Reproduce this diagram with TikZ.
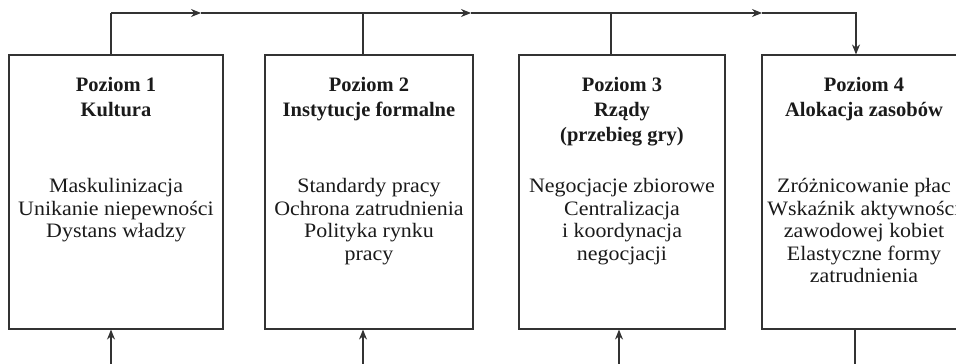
\documentclass[tikz,border=0pt]{standalone}
\usepackage{fontspec}
\setmainfont{Liberation Serif}
\newfontfamily\bodyfont[FakeStretch=1.07]{Liberation Serif}
\usetikzlibrary{arrows.meta}
\definecolor{ln}{HTML}{333333}
\definecolor{tx}{HTML}{1a1a1a}
\tikzset{
  lvlbox/.style={draw=ln, line width=1.1pt, inner sep=0pt},
  ttl/.style={font=\fontsize{20.5}{25}\selectfont\bfseries, text=tx, align=center, inner sep=0pt, anchor=north},
  bdy/.style={font=\bodyfont\fontsize{20.5}{22.6}\selectfont, text=tx, align=center, inner sep=0pt, anchor=north},
  conn/.style={draw=ln, line width=1.1pt},
  arr/.style={conn, -{Stealth[length=10pt,width=8pt]}},
}
\begin{document}
\begin{tikzpicture}[x=1pt,y=-1pt]
\useasboundingbox (0,0) rectangle (956,364);
% boxes
\node[lvlbox, minimum width=214pt, minimum height=274pt] (b1) at (116,192) {};
\node[lvlbox, minimum width=208pt, minimum height=274pt] (b2) at (369,192) {};
\node[lvlbox, minimum width=206pt, minimum height=274pt] (b3) at (622,192) {};
\node[lvlbox, minimum width=204pt, minimum height=274pt] (b4) at (864,192) {};
% titles
\node[ttl] (t1) at (116,77) {Poziom 1\\Kultura};
\node[ttl] (t2) at (369,77) {Poziom 2\\Instytucje formalne};
\node[ttl] (t3) at (622,77) {Poziom 3\\Rządy\\(przebieg gry)};
\node[ttl] (t4) at (864,77) {Poziom 4\\Alokacja zasobów};
% bodies
\node[bdy] (d1) at (116,178) {Maskulinizacja\\Unikanie niepewności\\Dystans władzy};
\node[bdy] (d2) at (369,178) {Standardy pracy\\Ochrona zatrudnienia\\Polityka rynku\\pracy};
\node[bdy] (d3) at (622,178) {Negocjacje zbiorowe\\Centralizacja\\i koordynacja\\negocjacji};
\node[bdy] (d4) at (864,178) {Zróżnicowanie płac\\Wskaźnik aktywności\\zawodowej kobiet\\Elastyczne formy\\zatrudnienia};
% top connector
\coordinate (u1) at (111,13);
\coordinate (m1) at (201,13);
\coordinate (m2) at (471,13);
\coordinate (m3) at (762,13);
\coordinate (u4) at (856,13);
\coordinate (j2) at (363,13);
\coordinate (j3) at (611,13);
\draw[conn] (b1.north -| u1) -- (u1);
\draw[arr] (u1) -- (m1);
\draw[arr] (m1) -- (m2);
\draw[arr] (m2) -- (m3);
\draw[arr] (m3) -- (u4) -- (b4.north -| u4);
\draw[conn] (b2.north -| j2) -- (j2);
\draw[conn] (b3.north -| j3) -- (j3);
% bottom connectors
\coordinate (s1) at (111,364);
\coordinate (s2) at (363,364);
\coordinate (s3) at (619,364);
\coordinate (s4) at (855,364);
\draw[arr] (s1) -- (b1.south -| s1);
\draw[arr] (s2) -- (b2.south -| s2);
\draw[arr] (s3) -- (b3.south -| s3);
\draw[conn] (b4.south -| s4) -- (s4);
\end{tikzpicture}
\end{document}
